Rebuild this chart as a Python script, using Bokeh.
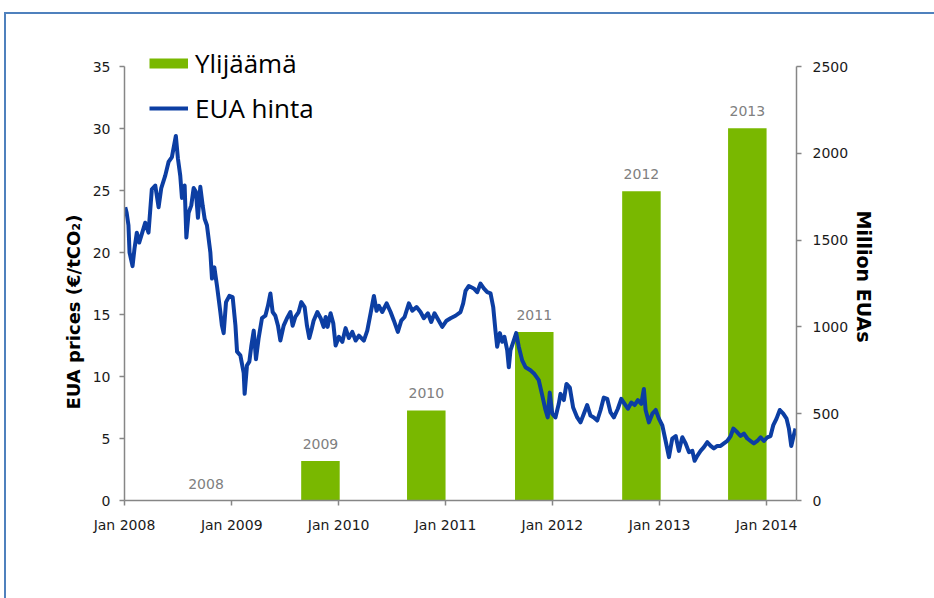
from datetime import datetime
from bokeh.plotting import figure
from bokeh.models import (Range1d, LinearAxis, FixedTicker, DatetimeTickFormatter,
                          ColumnDataSource, LabelSet, Legend, LegendItem, Title)
from bokeh.core.properties import value
from bokeh.embed import file_html
from bokeh.resources import INLINE

# ---------------- data ----------------
# EUA price (EUR/tCO2), sampled as decimal years
price_t = [2008.007, 2008.02, 2008.037, 2008.047, 2008.075, 2008.093, 2008.115, 2008.137, 2008.162, 2008.193,
           2008.224, 2008.255, 2008.287, 2008.318, 2008.343, 2008.380, 2008.411, 2008.442, 2008.479, 2008.498,
           2008.520, 2008.536, 2008.561, 2008.577, 2008.598, 2008.623, 2008.645, 2008.666, 2008.685, 2008.707,
           2008.729, 2008.748, 2008.769, 2008.801, 2008.816, 2008.838, 2008.863, 2008.894, 2008.909, 2008.925,
           2008.947, 2008.978, 2009.009, 2009.035, 2009.050, 2009.081, 2009.112, 2009.121, 2009.143, 2009.165,
           2009.184, 2009.206, 2009.227, 2009.252, 2009.283, 2009.315, 2009.339, 2009.362, 2009.383, 2009.408,
           2009.433, 2009.455, 2009.486, 2009.517, 2009.549, 2009.570, 2009.595, 2009.626, 2009.651, 2009.682,
           2009.704, 2009.726, 2009.750, 2009.766, 2009.801, 2009.832, 2009.860, 2009.879, 2009.897, 2009.925,
           2009.950, 2009.972, 2010.003, 2010.035, 2010.065, 2010.096, 2010.128, 2010.159, 2010.190, 2010.236,
           2010.268, 2010.299, 2010.330, 2010.355, 2010.377, 2010.408, 2010.449, 2010.486, 2010.517, 2010.554,
           2010.586, 2010.617, 2010.657, 2010.689, 2010.729, 2010.766, 2010.797, 2010.835, 2010.866, 2010.897,
           2010.937, 2010.969, 2011.009, 2011.047, 2011.093, 2011.140, 2011.165, 2011.187, 2011.218, 2011.264,
           2011.296, 2011.327, 2011.358, 2011.390, 2011.421, 2011.446, 2011.467, 2011.483, 2011.508, 2011.530,
           2011.551, 2011.577, 2011.592, 2011.607, 2011.638, 2011.661, 2011.685, 2011.717, 2011.748, 2011.794,
           2011.832, 2011.872, 2011.904, 2011.935, 2011.956, 2011.975, 2011.998, 2012.028, 2012.059, 2012.075,
           2012.106, 2012.131, 2012.162, 2012.193, 2012.231, 2012.262, 2012.293, 2012.324, 2012.355, 2012.386,
           2012.418, 2012.449, 2012.479, 2012.511, 2012.542, 2012.573, 2012.610, 2012.642, 2012.673, 2012.704,
           2012.736, 2012.766, 2012.797, 2012.829, 2012.853, 2012.869, 2012.900, 2012.932, 2012.963, 2012.993,
           2013.025, 2013.056, 2013.087, 2013.118, 2013.150, 2013.180, 2013.212, 2013.243, 2013.274, 2013.306,
           2013.327, 2013.352, 2013.383, 2013.414, 2013.446, 2013.477, 2013.507, 2013.539, 2013.570, 2013.601,
           2013.633, 2013.664, 2013.689, 2013.726, 2013.757, 2013.788, 2013.820, 2013.850, 2013.881, 2013.913,
           2013.944, 2013.975, 2014.007, 2014.037, 2014.062, 2014.093, 2014.124, 2014.156, 2014.187, 2014.209,
           2014.231, 2014.250, 2014.271]
price_v = [23.65, 23.2, 22.2, 20.0, 18.9, 20.3, 21.6, 20.8, 21.5, 22.4,
           21.6, 25.1, 25.4, 23.65, 25.2, 26.2, 27.3, 27.7, 29.4, 27.6,
           26.2, 24.4, 25.4, 21.2, 23.2, 23.8, 25.2, 24.9, 22.8, 25.3,
           23.8, 22.7, 22.2, 20.0, 17.9, 18.8, 17.3, 15.2, 14.1, 13.5,
           16.0, 16.5, 16.4, 14.1, 12.0, 11.7, 10.3, 8.6, 10.9, 11.2,
           12.5, 13.7, 11.4, 13.1, 14.7, 14.9, 15.7, 16.7, 15.2, 14.9,
           14.1, 12.9, 14.1, 14.7, 15.2, 14.1, 14.8, 15.2, 16.0, 15.6,
           14.1, 13.1, 13.9, 14.5, 15.2, 14.7, 14.0, 14.8, 14.0, 15.1,
           14.3, 12.5, 13.2, 12.8, 13.9, 13.1, 13.6, 12.9, 13.3, 12.9,
           13.7, 15.1, 16.5, 15.3, 15.7, 15.2, 15.9, 15.2, 14.5, 13.6,
           14.5, 14.8, 15.9, 15.3, 15.6, 15.2, 14.7, 15.1, 14.4, 15.1,
           14.5, 14.0, 14.5, 14.7, 14.9, 15.2, 15.9, 16.9, 17.3, 17.1,
           16.8, 17.5, 17.1, 16.8, 16.7, 15.6, 13.7, 12.4, 13.5, 12.8,
           13.2, 12.1, 10.75, 12.1, 12.9, 13.5, 12.4, 11.3, 10.75, 10.5,
           10.2, 9.7, 8.5, 7.3, 6.7, 8.7, 7.0, 6.7, 7.8, 8.6,
           8.1, 9.4, 9.1, 7.5, 6.7, 6.3, 7.0, 7.7, 6.85, 6.7,
           6.45, 7.3, 8.3, 8.2, 7.1, 6.7, 7.4, 8.2, 7.8, 7.4,
           7.9, 7.7, 8.1, 7.8, 9.0, 7.3, 6.3, 7.0, 7.3, 6.6,
           6.05, 4.8, 3.5, 5.0, 5.2, 4.0, 5.1, 4.6, 3.9, 4.0,
           3.2, 3.6, 4.0, 4.3, 4.7, 4.4, 4.2, 4.4, 4.4, 4.6,
           4.8, 5.2, 5.8, 5.5, 5.2, 5.4, 5.0, 4.8, 4.6, 4.8,
           5.1, 4.8, 5.1, 5.2, 6.05, 6.6, 7.3, 7.0, 6.6, 5.8,
           4.4, 5.1, 5.8]

# Surplus (million EUAs) per year
surplus_years = ["2008", "2009", "2010", "2011", "2012", "2013"]
surplus_t = [2008.76, 2009.83, 2010.82, 2011.83, 2012.83, 2013.82]
surplus_v = [0, 227, 519, 971, 1782, 2145]

tick_years = [2008, 2009, 2010, 2011, 2012, 2013, 2014]
price_ticks = [0, 5, 10, 15, 20, 25, 30, 35]
surplus_ticks = [0, 500, 1000, 1500, 2000, 2500]
x_start, x_end = 2008.0, 2014.28
bar_width_years = 0.36

legend_labels = ["Ylijäämä", "EUA hinta"]
left_label = "EUA prices  (€/tCO₂)"
right_label = "Million  EUAs"

# ---------------- helpers ----------------
EPOCH = datetime(1970, 1, 1)


def dec_to_ms(v):
    y = int(v)
    a = datetime(y, 1, 1)
    b = datetime(y + 1, 1, 1)
    d = a + (b - a) * (v - y)
    return (d - EPOCH).total_seconds() * 1000.0


YEAR_MS = 365.25 * 86400000.0

GREEN = "#79b800"
BLUE = "#0c3ea3"
AXIS = "#868686"
FRAME = "#4f81bd"
TICK_FONT = "DejaVu Sans"

# layout (px)
FRAME_H = 464
AXIS_H = 434          # height of the 0..max part of the axes
head = (FRAME_H - AXIS_H) / AXIS_H   # extra headroom above the axes' top tick

# ---------------- figure ----------------
p = figure(x_axis_type="datetime",
           frame_width=672, frame_height=FRAME_H,
           min_border_left=118, min_border_right=138,
           min_border_top=22, min_border_bottom=98,
           x_range=Range1d(dec_to_ms(x_start), dec_to_ms(x_end)),
           y_range=Range1d(0, price_ticks[-1] * (1 + head)),
           toolbar_location=None, output_backend="svg")
p.extra_y_ranges = {"eua": Range1d(0, surplus_ticks[-1] * (1 + head))}
p.outline_line_color = None
p.background_fill_color = "white"
p.border_fill_color = "white"
p.xgrid.visible = False
p.ygrid.visible = False
p.styles = {"margin-left": "4px", "margin-top": "12px",
            "border-left": f"2px solid {FRAME}", "border-top": f"2px solid {FRAME}"}

bar_src = ColumnDataSource(dict(x=[dec_to_ms(t) for t in surplus_t],
                                surplus=surplus_v, label=surplus_years))
line_src = ColumnDataSource(dict(x=[dec_to_ms(t) for t in price_t], price=price_v))

p.vbar(x="x", top="surplus", width=bar_width_years * YEAR_MS, source=bar_src,
       y_range_name="eua", fill_color=GREEN, line_color=None)
price_r = p.line(x="x", y="price", source=line_src, line_color=BLUE,
                 line_width=4, line_join="round")

labels = LabelSet(x="x", y="surplus", text="label", source=bar_src, y_range_name="eua",
                  text_align="center", text_baseline="alphabetic", y_offset=12,
                  text_font=value(TICK_FONT), text_font_size="14px", text_color="#808080")
p.add_layout(labels)

# axes
right_axis = LinearAxis(y_range_name="eua")
p.add_layout(right_axis, "right")

p.xaxis[0].ticker = FixedTicker(ticks=[dec_to_ms(y) for y in tick_years])
p.xaxis[0].formatter = DatetimeTickFormatter(years="%b %Y", months="%b %Y", days="%b %Y",
                                             hours="%b %Y", minutes="%b %Y")
p.yaxis[0].ticker = FixedTicker(ticks=price_ticks)
p.yaxis[0].bounds = (price_ticks[0], price_ticks[-1])
right_axis.ticker = FixedTicker(ticks=surplus_ticks)
right_axis.bounds = (surplus_ticks[0], surplus_ticks[-1])

for ax in [p.xaxis[0], p.yaxis[0], right_axis]:
    ax.axis_line_color = AXIS
    ax.axis_line_width = 1.5
    ax.major_tick_line_color = AXIS
    ax.major_tick_line_width = 1.5
    ax.major_tick_out = 5
    ax.major_tick_in = 0
    ax.minor_tick_out = 0
    ax.minor_tick_in = 0
    ax.major_label_text_font = TICK_FONT
    ax.major_label_text_font_size = "14px"
    ax.major_label_text_color = "#1a1a1a"

p.xaxis[0].major_label_standoff = 11
p.yaxis[0].major_label_standoff = 9
right_axis.major_label_standoff = 11

# axis titles (placed in the side panels so they can sit off-centre like the original)
left_title = Title(text=left_label, align="left", offset=91, standoff=12,
                   text_font=TICK_FONT, text_font_size="18px", text_font_style="bold",
                   text_color="#000000")
p.add_layout(left_title, "left")
right_title = Title(text=right_label, align="left", offset=174, standoff=2,
                    text_font=TICK_FONT, text_font_size="19px", text_font_style="bold",
                    text_color="#000000")
p.add_layout(right_title, "right")

# legend
legend_src = ColumnDataSource(dict(x=[dec_to_ms(x_start)] * 2, y=[-5, -5]))
dummy = p.line(x="x", y="y", source=legend_src, line_color=GREEN, line_width=10)
legend = Legend(items=[LegendItem(label=legend_labels[0], renderers=[dummy]),
                       LegendItem(label=legend_labels[1], renderers=[price_r])],
                location=(25, 372.5), orientation="vertical", padding=0, spacing=5, margin=0,
                glyph_width=39, glyph_height=40, label_height=40, label_standoff=7,
                label_text_font="Open Sans", label_text_font_size="26px",
                label_text_color="#000000",
                border_line_color=None, background_fill_alpha=0)
p.add_layout(legend)

open("out.html", "w").write(file_html(p, INLINE))
